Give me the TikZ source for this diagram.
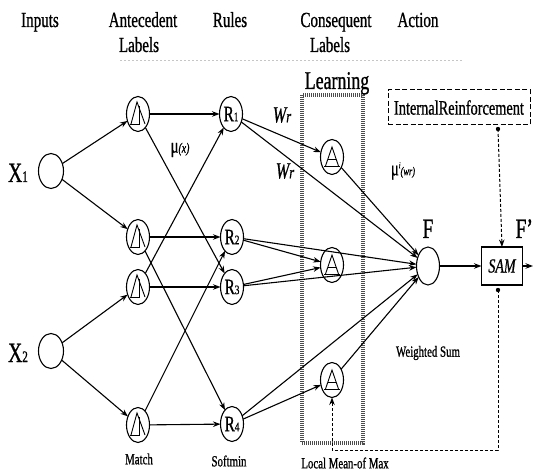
\documentclass[tikz,border=0pt]{standalone}
\usepackage{fontspec}
\setmainfont[FakeStretch=0.7,FakeBold=0.8]{Liberation Serif}
\usetikzlibrary{shapes.geometric,arrows.meta}
\newcommand{\fs}[1]{\fontsize{#1}{#1}\selectfont}
\begin{document}
\begin{tikzpicture}[x=1pt,y=-1pt, line width=1.1pt,
  every node/.style={inner sep=0pt, outer sep=0pt},
  neuron/.style={draw, ellipse, line width=1.1pt, minimum width=23pt, minimum height=35pt},
  hdr/.style={anchor=base, font=\fs{21.5}},
  sml/.style={font=\fs{15.5}},
  arr/.style={-{Stealth[length=7.5pt,width=5.5pt]}},
  dsh/.style={dash pattern=on 3pt off 2pt, line width=1pt},
  learnbox/.style={draw=black!70, line width=3.2pt, dash pattern=on 1pt off 1pt},
  symb/.style={line width=0.9pt}
]
\useasboundingbox (0,0) rectangle (533,473);

% headers
\node[hdr] (hIn) at (40,27) {Inputs};
\node[hdr] (hAnt1) at (143,27) {Antecedent};
\node[hdr] (hAnt2) at (139,52) {Labels};
\node[hdr] (hRul) at (230,27) {Rules};
\node[hdr] (hCon1) at (336,27) {Consequent};
\node[hdr] (hCon2) at (330,52) {Labels};
\node[hdr] (hAct) at (418,27) {Action};
\draw[gray!45, line width=0.6pt, dash pattern=on 2pt off 2pt] (120,60) -- (462,60);

% learning box
\node[learnbox, minimum width=61pt, minimum height=348pt] (LB) at (332.5,269) {};
\node[anchor=base, font=\fs{25.5}] (learnL) at (337,89) {Learning};

% inputs
\node[neuron, minimum width=25pt] (X1) at (51,171) {};
\node[neuron, minimum width=25pt] (X2) at (51,351) {};
\node[anchor=base] (lX1) at (18,182) {{\fs{28}X}{\fs{16}1}};
\node[anchor=base] (lX2) at (18,362) {{\fs{28}X}{\fs{16}2}};

% antecedent
\node[neuron] (A1) at (138,114) {};
\node[neuron] (A2) at (138,237) {};
\node[neuron] (A3) at (138,287) {};
\node[neuron] (A4) at (138,425) {};
\foreach \n in {A1,A2,A3,A4}{
  \begin{scope}[shift={(\n.center)}, symb]
    \draw (-7,10) -- (-1,-12) -- (7,10);
    \draw (1,-8) -- (1,10);
    \draw (-8,10) -- (2,10);
  \end{scope}}

% rules
\node[neuron] (R1) at (231,114) {{\fs{22}R}{\fs{13}1}};
\node[neuron] (R2) at (232,237) {{\fs{22}R}{\fs{13}2}};
\node[neuron] (R3) at (232,287) {{\fs{22}R}{\fs{13}3}};
\node[neuron] (R4) at (232,424) {{\fs{22}R}{\fs{13}4}};

% consequent
\node[neuron] (C1) at (332,157) {};
\node[neuron] (C2) at (332,265) {};
\node[neuron] (C3) at (332,380) {};
\foreach \n in {C1,C2,C3}{
  \begin{scope}[shift={(\n.center)}, symb]
    \draw (-6.5,9) -- (0,-10) -- (6.5,9);
    \draw (-4,2) -- (4,2);
    \draw (-8,9) -- (8,9);
  \end{scope}}

% output
\node[neuron, minimum height=38pt] (F) at (428,266) {};
\node[anchor=base, font=\fs{28}] (lF) at (428,238) {F};
\node[draw, line width=1.1pt, minimum width=41pt, minimum height=38pt, font=\fs{20}\itshape] (SAM) at (502,266) {SAM};
\node[anchor=base east, font=\fs{28}] (lF2) at (533,238) {F'};
\coordinate (out) at (533,266);

\node[draw, dash pattern=on 5pt off 2.5pt, line width=1pt, minimum width=142pt, minimum height=35pt, font=\fs{20.5}] (IR) at (459,107.5) {InternalReinforcement};

% labels
\node (mux) at (180,150) {{\fs{21}μ}{\fs{14}\itshape(x)}};
\node (muw) at (403,171) {{\fs{21}μ}\raisebox{7pt}{\fs{9}\itshape i}{\fs{12}\itshape(wr)}};
\node[font=\fs{23}\itshape] (w1) at (282,115) {W{\fs{18}r}};
\node[font=\fs{23}\itshape] (w2) at (285,171) {W{\fs{18}r}};
\node[sml] (ws) at (428,353) {Weighted Sum};
\node[sml] (lm) at (345,463) {Local Mean-of Max};
\node[sml] (mt) at (139,459) {Match};
\node[sml] (sm) at (229,461) {Softmin};

% connections
\draw[arr] (X1) -- (A1);
\draw[arr] (X1) -- (A2);
\draw[arr] (X2) -- (A3);
\draw[arr] (X2) -- (A4);

\draw[arr] (A1) -- (R1);
\draw[arr] (A1) -- (R3);
\draw[arr] (A2) -- (R2);
\draw[arr] (A2) -- (R4);
\draw[arr] (A3) -- (R3);
\draw[arr] (A3) -- (R1);
\draw[arr] (A4) -- (R4);
\draw[arr] (A4) -- (R2);

\draw[arr] (R1) -- (C1);
\draw[arr] (R1) -- (F);
\draw[arr] (C1) -- (F);
\draw[arr] (R2) -- (C2);
\draw[arr] (R2) -- (F);
\draw[arr] (R3) -- (C2);
\draw[arr] (R3) -- (F);
\draw[arr] (R4) -- (C3);
\draw[arr] (R4) -- (F);
\draw[arr] (C3) -- (F);

\draw[arr] (F) -- (SAM);
\draw[arr] (SAM) -- (out);

\coordinate (d1) at (498,129);
\coordinate (d2) at (498,290);
\coordinate (corner) at (498,450);
\fill (d1) circle (2.2pt);
\fill (d2) circle (2.2pt);
\draw[dsh, arr] (d1) -- (SAM.north);
\draw[dsh, arr] (d2) -- (corner) -| (C3.south);
\end{tikzpicture}
\end{document}
